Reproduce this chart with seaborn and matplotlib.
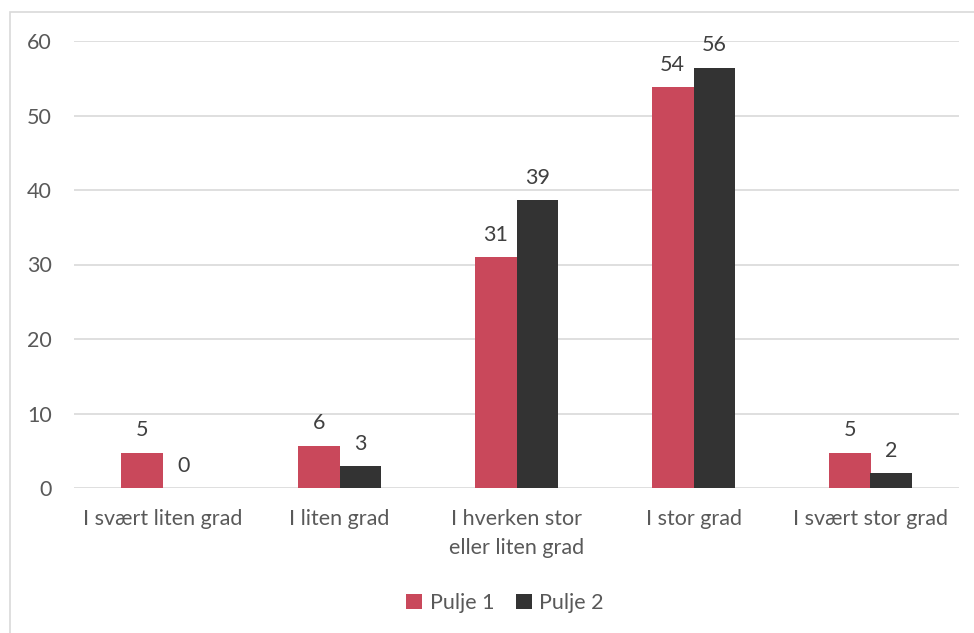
import matplotlib
matplotlib.use("Agg")
import matplotlib.pyplot as plt
import seaborn as sns
import pandas as pd
from matplotlib.patches import Rectangle

categories = ["I svært liten grad", "I liten grad", "I hverken stor\neller liten grad", "I stor grad", "I svært stor grad"]
pulje1 = [4.7, 5.7, 31.0, 53.8, 4.7]
pulje2 = [0.0, 2.9, 38.6, 56.4, 2.0]
series = ["Pulje 1", "Pulje 2"]
yticks = [0, 10, 20, 30, 40, 50, 60]

df = pd.DataFrame({
    "cat": categories * 2,
    "val": pulje1 + pulje2,
    "series": [series[0]] * len(categories) + [series[1]] * len(categories),
})

sns.set_theme(style="white")
plt.rcParams["font.family"] = ["Lato", "DejaVu Sans"]
txt = "#595959"
fs = 15.5

fig = plt.figure(figsize=(9.74, 6.33), dpi=100)
ax = fig.add_axes([74/974, 1 - 488/633, (959-74)/974, (488-41)/633])

sns.barplot(data=df, x="cat", y="val", hue="series", palette=["#C9485B", "#333333"],
            width=0.47, ax=ax, saturation=1, legend=True, dodge=True, linewidth=0)

ax.set_ylim(0, 60)
ax.set_yticks(yticks)
ax.set_xlim(-0.5, len(categories) - 0.5)
ax.yaxis.grid(True, color="#d9d9d9", linewidth=1.2)
ax.set_axisbelow(True)
for s in ax.spines.values():
    s.set_visible(False)
ax.set_xlabel("")
ax.set_ylabel("")
ax.tick_params(axis="x", length=0, labelsize=fs, colors=txt, pad=15)
ax.tick_params(axis="y", length=0, labelsize=fs, colors=txt, pad=16)
for lbl in ax.get_xticklabels():
    lbl.set_linespacing(1.6)

for cont in ax.containers:
    ax.bar_label(cont, labels=[f"{round(v.get_height()):d}" for v in cont],
                 padding=9, fontsize=fs, color="#404040")

leg = ax.legend(loc="center", bbox_to_anchor=(505/974, 1 - 603/633), bbox_transform=fig.transFigure,
                ncol=2, frameon=False, fontsize=fs, handlelength=0.75, handleheight=0.75,
                columnspacing=1.0, handletextpad=0.35)
for t in leg.get_texts():
    t.set_color(txt)

fig.patches.append(Rectangle((10/974, -0.1), 1.2, 1 - 12/633 + 0.1, transform=fig.transFigure,
                             fill=False, edgecolor="#d9d9d9", linewidth=1.2))

fig.savefig("out.png", dpi=100)
